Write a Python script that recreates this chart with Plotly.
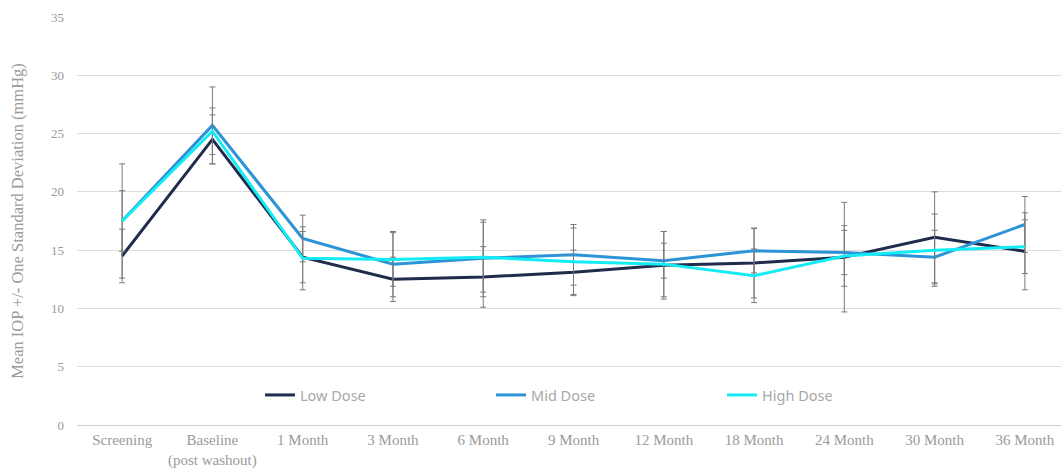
import plotly.graph_objects as go

# Visit labels along the x axis
visits = ["Screening", "Baseline<br>(post washout)", "1 Month", "3 Month", "6 Month",
          "9 Month", "12 Month", "18 Month", "24 Month", "30 Month", "36 Month"]

# Mean IOP (mmHg) per dose group
low_mean = [14.5, 24.5, 14.4, 12.5, 12.7, 13.1, 13.7, 13.9, 14.4, 16.1, 14.9]
mid_mean = [17.5, 25.7, 16.0, 13.8, 14.3, 14.6, 14.1, 14.95, 14.8, 14.4, 17.2]
high_mean = [17.5, 25.2, 14.3, 14.2, 14.4, 14.0, 13.8, 12.8, 14.5, 15.0, 15.3]

# One standard deviation per dose group
low_sd = [2.3, 2.1, 2.2, 1.9, 2.6, 1.9, 2.9, 3.0, 4.7, 3.9, 3.3]
mid_sd = [2.6, 3.3, 2.0, 2.8, 3.3, 2.6, 1.5, 1.9, 1.9, 2.3, 2.4]
high_sd = [4.9, 2.0, 2.7, 2.3, 3.0, 2.9, 2.8, 2.3, 2.6, 3.1, 2.3]

series = [
    ("Low Dose", low_mean, low_sd, "#1f2c4c"),
    ("Mid Dose", mid_mean, mid_sd, "#2b93d6"),
    ("High Dose", high_mean, high_sd, "#14ecf5"),
]

fig = go.Figure()
for name, mean, sd, color in series:
    fig.add_trace(go.Scatter(
        x=visits, y=mean, name=name, mode="lines",
        line=dict(color=color, width=3),
        error_y=dict(type="data", array=sd, visible=True,
                     color="#7a7a7a", thickness=1, width=3),
    ))

serif = "Liberation Serif, Times New Roman, serif"
grey = "#9a9a9a"
fig.update_layout(
    width=1061, height=472,
    margin=dict(l=77, r=0, t=17, b=47, autoexpand=False),
    plot_bgcolor="white", paper_bgcolor="white",
    showlegend=True,
    legend=dict(
        orientation="h", x=0.186, y=0.0735, xanchor="left", yanchor="middle",
        entrywidth=186, entrywidthmode="pixels",
        font=dict(family="Noto Sans, Lato, sans-serif", size=14.5, color="#a8a8a8"),
        bgcolor="rgba(0,0,0,0)", itemclick=False,
    ),
    xaxis=dict(
        range=[-0.5, 10.4], showgrid=False, zeroline=False, showline=False,
        automargin=False, ticks="", ticklabelstandoff=4,
        tickfont=dict(family=serif, size=15, color=grey),
    ),
    yaxis=dict(
        range=[0, 35], dtick=5, showgrid=True, gridcolor="#dcdcdc", gridwidth=1,
        zeroline=True, zerolinecolor="#d0d0d0", zerolinewidth=1, showline=False,
        automargin=False, ticks="", ticklabelstandoff=12,
        tickfont=dict(family=serif, size=13, color=grey),
        title=dict(text="Mean IOP +/- One Standard Deviation (mmHg)",
                   font=dict(family=serif, size=16.5, color=grey), standoff=23),
    ),
)

fig.write_html("out.html")
